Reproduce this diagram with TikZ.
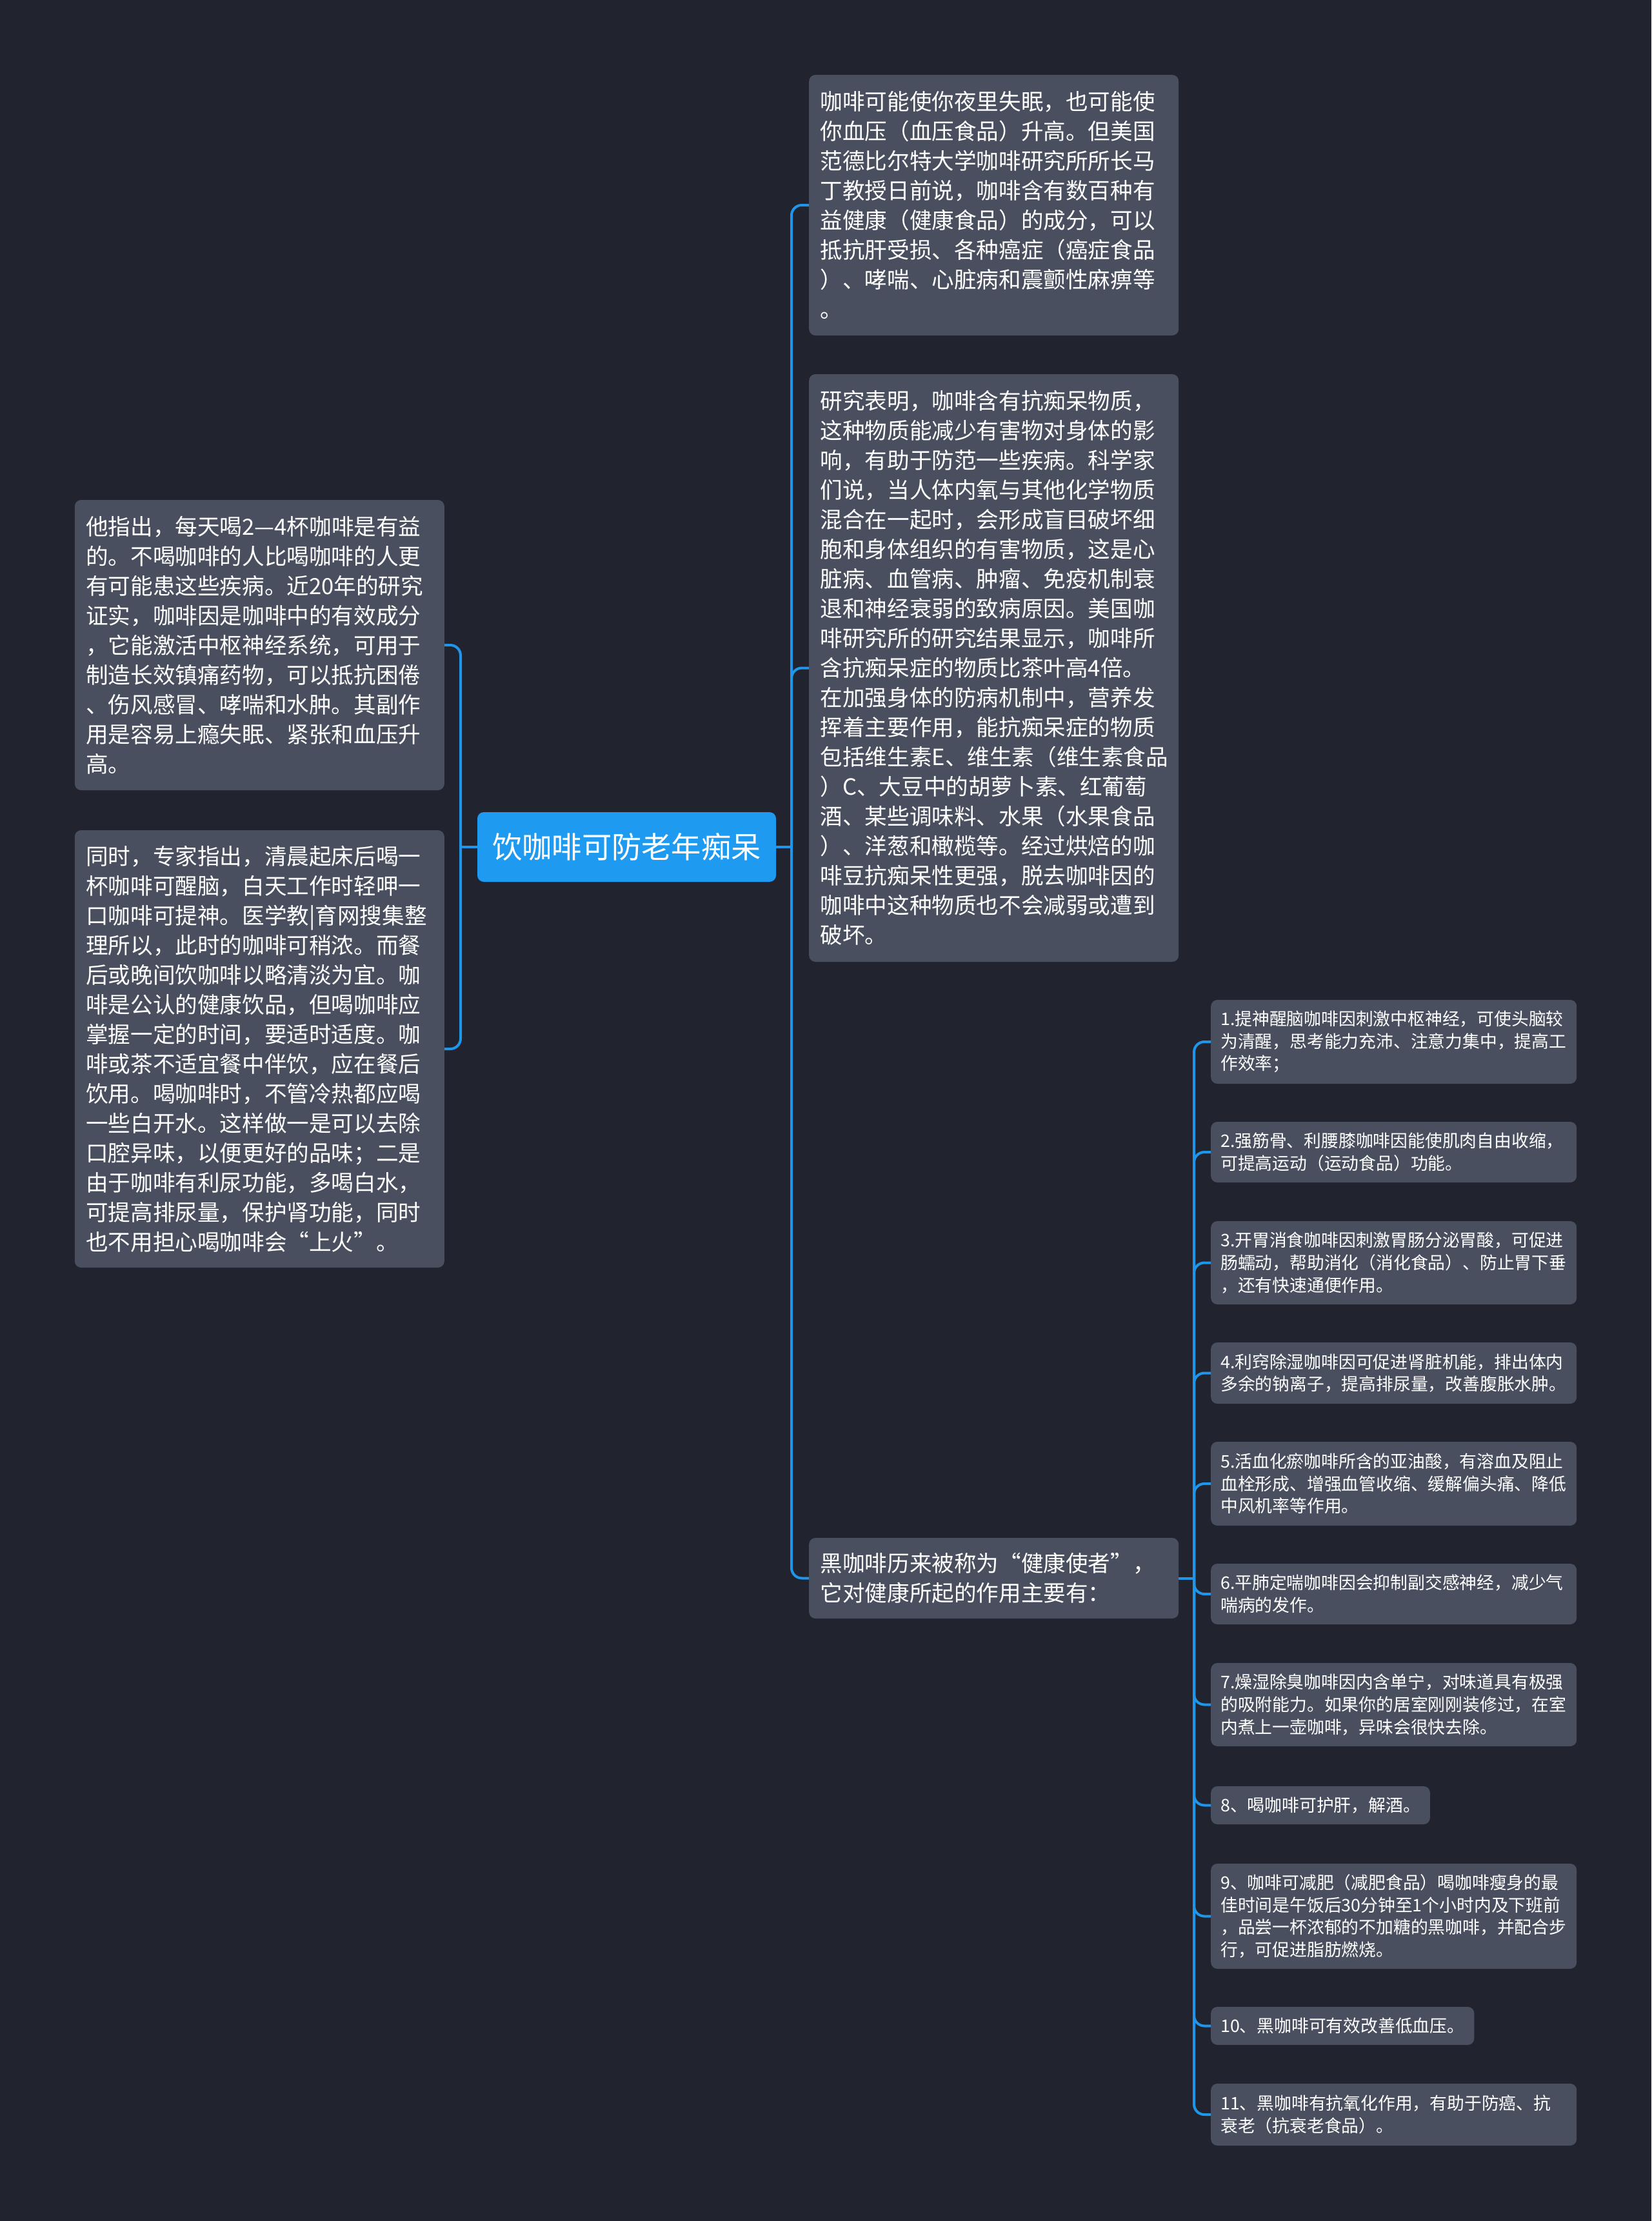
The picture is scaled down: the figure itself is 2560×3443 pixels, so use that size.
\documentclass[tikz,border=0pt]{standalone}
\usepackage{fontspec}
\newfontfamily\cjk{Noto Sans CJK SC}
\definecolor{bgc}{HTML}{21242E}
\definecolor{boxc}{HTML}{494F5E}
\definecolor{linkc}{HTML}{1F96EA}
\definecolor{centerc}{HTML}{1E9BF0}
\begin{document}
\begin{tikzpicture}[x=1pt,y=-1pt,
  box/.style={fill=boxc, rounded corners=10pt, text=white, align=left, inner ysep=0pt},
  lone/.style={box, font=\cjk\fontsize{34.6pt}{46pt}\selectfont, text width=538pt, inner xsep=17.5pt},
  ltwo/.style={box, font=\cjk\fontsize{26.8pt}{34.7pt}\selectfont, text width=537pt, inner xsep=15pt},
  ltwos/.style={box, font=\cjk\fontsize{26.8pt}{34.7pt}\selectfont, inner xsep=15pt},
  centerbox/.style={fill=centerc, rounded corners=10pt, text=white, font=\cjk\fontsize{46.3pt}{56pt}\selectfont, minimum width=463pt, minimum height=108pt, inner sep=0pt},
  link/.style={draw=linkc, line width=4pt, rounded corners=16pt}]
\useasboundingbox (0,0) rectangle (2560,3443);
\fill[bgc] (0,0) rectangle (2560,3443);

% central topic
\node[centerbox] (c) at (971.5,1313) {饮咖啡可防老年痴呆};

% right level one
\node[lone, anchor=west, minimum height=404pt] (n1) at (1254,318) {咖啡可能使你夜里失眠，也可能使\\你血压（血压食品）升高。但美国\\范德比尔特大学咖啡研究所所长马\\丁教授日前说，咖啡含有数百种有\\益健康（健康食品）的成分，可以\\抵抗肝受损、各种癌症（癌症食品\\）、哮喘、心脏病和震颤性麻痹等\\。};
\node[lone, anchor=west, minimum height=911pt] (n2) at (1254,1035.5) {研究表明，咖啡含有抗痴呆物质，\\这种物质能减少有害物对身体的影\\响，有助于防范一些疾病。科学家\\们说，当人体内氧与其他化学物质\\混合在一起时，会形成盲目破坏细\\胞和身体组织的有害物质，这是心\\脏病、血管病、肿瘤、免疫机制衰\\退和神经衰弱的致病原因。美国咖\\啡研究所的研究结果显示，咖啡所\\含抗痴呆症的物质比茶叶高4倍。\\在加强身体的防病机制中，营养发\\挥着主要作用，能抗痴呆症的物质\\包括维生素E、维生素（维生素食品\\）C、大豆中的胡萝卜素、红葡萄\\酒、某些调味料、水果（水果食品\\）、洋葱和橄榄等。经过烘焙的咖\\啡豆抗痴呆性更强，脱去咖啡因的\\咖啡中这种物质也不会减弱或遭到\\破坏。};
\node[lone, anchor=west, minimum height=125pt] (n3) at (1254,2446.5) {黑咖啡历来被称为“健康使者”，\\它对健康所起的作用主要有：};

% left level one
\node[lone, anchor=east, minimum height=450pt] (l1) at (689,1000) {他指出，每天喝2—4杯咖啡是有益\\的。不喝咖啡的人比喝咖啡的人更\\有可能患这些疾病。近20年的研究\\证实，咖啡因是咖啡中的有效成分\\，它能激活中枢神经系统，可用于\\制造长效镇痛药物，可以抵抗困倦\\、伤风感冒、哮喘和水肿。其副作\\用是容易上瘾失眠、紧张和血压升\\高。};
\node[lone, anchor=east, minimum height=678pt] (l2) at (689,1626) {同时，专家指出，清晨起床后喝一\\杯咖啡可醒脑，白天工作时轻呷一\\口咖啡可提神。医学教|育网搜集整\\理所以，此时的咖啡可稍浓。而餐\\后或晚间饮咖啡以略清淡为宜。咖\\啡是公认的健康饮品，但喝咖啡应\\掌握一定的时间，要适时适度。咖\\啡或茶不适宜餐中伴饮，应在餐后\\饮用。喝咖啡时，不管冷热都应喝\\一些白开水。这样做一是可以去除\\口腔异味，以便更好的品味；二是\\由于咖啡有利尿功能，多喝白水，\\可提高排尿量，保护肾功能，同时\\也不用担心喝咖啡会“上火”。};

% level two
\node[ltwo, anchor=west, minimum height=130pt] (k1) at (1877,1615) {1.提神醒脑咖啡因刺激中枢神经，可使头脑较\\为清醒，思考能力充沛、注意力集中，提高工\\作效率；};
\node[ltwo, anchor=west, minimum height=94pt] (k2) at (1877,1786) {2.强筋骨、利腰膝咖啡因能使肌肉自由收缩，\\可提高运动（运动食品）功能。};
\node[ltwo, anchor=west, minimum height=129pt] (k3) at (1877,1957.5) {3.开胃消食咖啡因刺激胃肠分泌胃酸，可促进\\肠蠕动，帮助消化（消化食品）、防止胃下垂\\，还有快速通便作用。};
\node[ltwo, anchor=west, minimum height=95pt] (k4) at (1877,2128.5) {4.利窍除湿咖啡因可促进肾脏机能，排出体内\\多余的钠离子，提高排尿量，改善腹胀水肿。};
\node[ltwo, anchor=west, minimum height=130pt] (k5) at (1877,2300) {5.活血化瘀咖啡所含的亚油酸，有溶血及阻止\\血栓形成、增强血管收缩、缓解偏头痛、降低\\中风机率等作用。};
\node[ltwo, anchor=west, minimum height=94pt] (k6) at (1877,2471) {6.平肺定喘咖啡因会抑制副交感神经，减少气\\喘病的发作。};
\node[ltwo, anchor=west, minimum height=129pt] (k7) at (1877,2642.5) {7.燥湿除臭咖啡因内含单宁，对味道具有极强\\的吸附能力。如果你的居室刚刚装修过，在室\\内煮上一壶咖啡，异味会很快去除。};
\node[ltwos, anchor=west, minimum height=59pt] (k8) at (1877,2798.5) {8、喝咖啡可护肝，解酒。};
\node[ltwo, anchor=west, minimum height=163pt] (k9) at (1877,2970.5) {9、咖啡可减肥（减肥食品）喝咖啡瘦身的最\\佳时间是午饭后30分钟至1个小时内及下班前\\，品尝一杯浓郁的不加糖的黑咖啡，并配合步\\行，可促进脂肪燃烧。};
\node[ltwos, anchor=west, minimum height=59pt] (k10) at (1877,3140.5) {10、黑咖啡可有效改善低血压。};
\node[ltwo, anchor=west, minimum height=96pt] (k11) at (1877,3278) {11、黑咖啡有抗氧化作用，有助于防癌、抗\\衰老（抗衰老食品）。};

% junction points
\coordinate (rs) at (1227,1313);
\coordinate (ls) at (714,1313);
\coordinate (ts) at (1851,2446.5);

% connectors right
\draw[link] (c.east) -- (rs);
\draw[link] (rs) |- (n1.west);
\draw[link] (rs) |- (n2.west);
\draw[link] (rs) |- (n3.west);
% connectors left
\draw[link] (c.west) -- (ls);
\draw[link] (ls) |- (l1.east);
\draw[link] (ls) |- (l2.east);
% connectors level two
\draw[link] (n3.east) -- (ts);
\foreach \k in {k1,k2,k3,k4,k5,k6,k7,k8,k9,k10,k11}
  \draw[link] (ts) |- (\k.west);
\end{tikzpicture}
\end{document}
